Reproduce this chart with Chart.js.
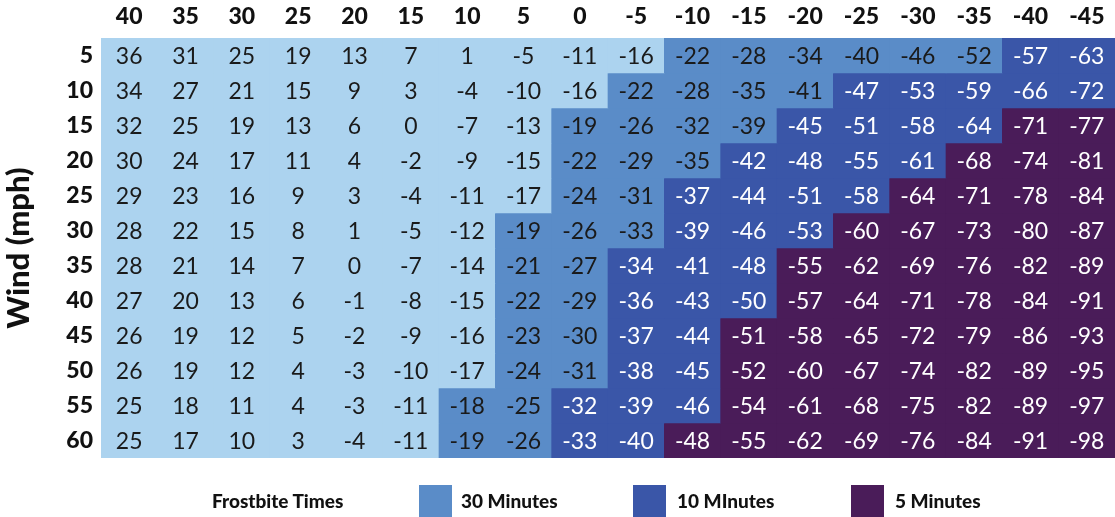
<!DOCTYPE html>
<html lang="en">
<head>
    <meta charset="UTF-8">
    <title>Wind Chill Chart</title>
    <script src="https://cdn.jsdelivr.net/npm/chart.js"></script>
    <style>
        body { margin: 0; background: #fff; font-family: Lato, "Open Sans", sans-serif; }
        #wrap { position: relative; width: 1115px; height: 517px; }
        #legend { position: absolute; left: 0; top: 485px; width: 1115px; height: 32px; font-weight: 900; font-size: 19px; color: #111; }
        #legend span { position: absolute; top: 4px; }
        #legend i { position: absolute; top: 0; width: 33px; height: 33px; }
    </style>
</head>
<body>
    <div id="wrap">
        <canvas id="myChart" width="1115" height="517"></canvas>
        <div id="legend">
            <span style="left:212px">Frostbite Times</span>
            <i style="left:419px;background:#5a8cc8"></i><span style="left:461px">30 Minutes</span>
            <i style="left:633px;background:#3a56a8"></i><span style="left:677px">10 MInutes</span>
            <i style="left:851px;background:#4a1c59"></i><span style="left:895px">5 Minutes</span>
        </div>
    </div>

    <script>
        // Temperatur (°F) in den Spalten, Wind (mph) in den Zeilen
        const temps = [40, 35, 30, 25, 20, 15, 10, 5, 0, -5, -10, -15, -20, -25, -30, -35, -40, -45];
        const winds = [5, 10, 15, 20, 25, 30, 35, 40, 45, 50, 55, 60];

        const windChill = [
            [36, 31, 25, 19, 13, 7, 1, -5, -11, -16, -22, -28, -34, -40, -46, -52, -57, -63],
            [34, 27, 21, 15, 9, 3, -4, -10, -16, -22, -28, -35, -41, -47, -53, -59, -66, -72],
            [32, 25, 19, 13, 6, 0, -7, -13, -19, -26, -32, -39, -45, -51, -58, -64, -71, -77],
            [30, 24, 17, 11, 4, -2, -9, -15, -22, -29, -35, -42, -48, -55, -61, -68, -74, -81],
            [29, 23, 16, 9, 3, -4, -11, -17, -24, -31, -37, -44, -51, -58, -64, -71, -78, -84],
            [28, 22, 15, 8, 1, -5, -12, -19, -26, -33, -39, -46, -53, -60, -67, -73, -80, -87],
            [28, 21, 14, 7, 0, -7, -14, -21, -27, -34, -41, -48, -55, -62, -69, -76, -82, -89],
            [27, 20, 13, 6, -1, -8, -15, -22, -29, -36, -43, -50, -57, -64, -71, -78, -84, -91],
            [26, 19, 12, 5, -2, -9, -16, -23, -30, -37, -44, -51, -58, -65, -72, -79, -86, -93],
            [26, 19, 12, 4, -3, -10, -17, -24, -31, -38, -45, -52, -60, -67, -74, -82, -89, -95],
            [25, 18, 11, 4, -3, -11, -18, -25, -32, -39, -46, -54, -61, -68, -75, -82, -89, -97],
            [25, 17, 10, 3, -4, -11, -19, -26, -33, -40, -48, -55, -62, -69, -76, -84, -91, -98]
        ];

        // Temperatur, ab der die jeweilige Erfrierungszeit gilt (pro Windzeile)
        const thirtyMinFrom = [-10, -5, 0, 0, 0, 5, 5, 5, 5, 5, 10, 10];
        const tenMinFrom = [-40, -25, -20, -15, -10, -10, -5, -5, -5, -5, 0, 0];
        const fiveMinFrom = [null, null, -40, -35, -30, -25, -20, -20, -15, -15, -15, -10];

        const zoneColors = ['#acd3ef', '#5a8cc8', '#3a56a8', '#4a1c59'];
        const zoneText = ['#1a1a1a', '#1a1a1a', '#ffffff', '#ffffff'];

        function zoneOf(r, c) {
            const t = temps[c];
            if (fiveMinFrom[r] !== null && t <= fiveMinFrom[r]) return 3;
            if (t <= tenMinFrom[r]) return 2;
            if (t <= thirtyMinFrom[r]) return 1;
            return 0;
        }

        const datasets = winds.map((w, r) => ({
            label: w + ' mph',
            data: temps.map(() => [r, r + 1]),
            backgroundColor: temps.map((t, c) => zoneColors[zoneOf(r, c)]),
            borderWidth: 0,
            barPercentage: 1,
            categoryPercentage: 1,
            grouped: false
        }));

        // Werte in die Zellen schreiben
        const cellText = {
            id: 'cellText',
            afterDatasetsDraw(chart) {
                const ctx = chart.ctx;
                ctx.save();
                ctx.font = '23px Lato, "Open Sans", sans-serif';
                ctx.textAlign = 'center';
                ctx.textBaseline = 'middle';
                chart.data.datasets.forEach((ds, r) => {
                    chart.getDatasetMeta(r).data.forEach((bar, c) => {
                        const y = (bar.y + bar.base) / 2;
                        ctx.fillStyle = zoneText[zoneOf(r, c)];
                        ctx.fillText(windChill[r][c], bar.x, y + 1);
                    });
                });
                ctx.restore();
            }
        };

        const ctx = document.getElementById('myChart').getContext('2d');
        const myChart = new Chart(ctx, {
            type: 'bar',
            data: { labels: temps.map(String), datasets: datasets },
            options: {
                responsive: false,
                animation: false,
                layout: { padding: { left: 0, right: 0, top: 0, bottom: 59 } },
                plugins: { legend: { display: false }, tooltip: { enabled: false } },
                scales: {
                    x: {
                        position: 'top',
                        grid: { display: false, drawTicks: false },
                        border: { display: false },
                        ticks: {
                            color: '#111',
                            padding: 8,
                            font: { family: 'Lato', size: 23, weight: '900' }
                        },
                        afterFit(scale) { scale.height = 38; }
                    },
                    y: {
                        reverse: true,
                        min: 0,
                        max: winds.length,
                        grid: { display: false, drawTicks: false },
                        border: { display: false },
                        afterBuildTicks(scale) {
                            scale.ticks = winds.map((w, i) => ({ value: i + 0.5 }));
                        },
                        ticks: {
                            color: '#111',
                            padding: 8,
                            font: { family: 'Lato', size: 23, weight: '900' },
                            callback: (v, i) => winds[i]
                        },
                        title: {
                            display: true,
                            text: 'Wind (mph)',
                            color: '#111',
                            padding: { top: 0, bottom: 0 },
                            font: { family: 'Lato', size: 31, weight: '900' }
                        },
                        afterFit(scale) { scale.width = 101; }
                    }
                }
            },
            plugins: [cellText]
        });
    </script>
</body>
</html>
